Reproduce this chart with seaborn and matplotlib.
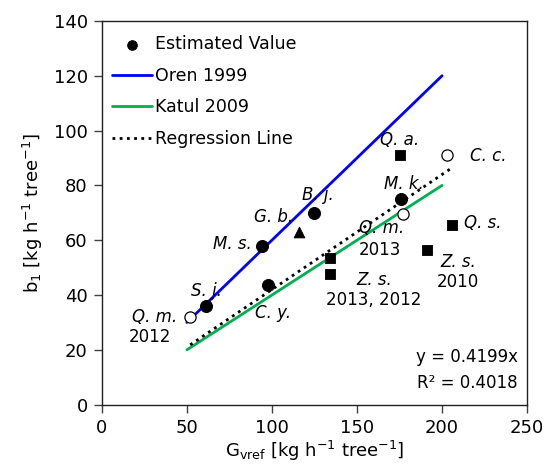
import matplotlib
matplotlib.use("Agg")
import matplotlib.pyplot as plt
import seaborn as sns
import numpy as np
import pandas as pd

# ---- data ----
filled_x = [61, 94, 125, 98, 176]
filled_y = [36, 58, 70, 43.5, 75]
tri_x = [116]
tri_y = [63]
square_x = [175, 134, 134, 191, 206]
square_y = [91, 53.5, 47.5, 56.5, 65.5]
open_x = [52, 203, 177]
open_y = [32, 91, 69.5]

oren_x = [50, 200]
oren_y = [30, 120]
katul_x = [50, 200]
katul_y = [20, 80]
reg_x = [52, 206]
reg_slope = 0.4199
reg_y = [reg_slope * v for v in reg_x]

labels = ["Q. a.", "C. c.", "M. k.", "Q. m.", "Q. s.", "Z. s.", "Z. s.",
          "B. j.", "G. b.", "M. s.", "S. j.", "C. y.", "Q. m."]
label_x = [175, 227, 177.5, 164.5, 224, 209.5, 160, 127, 101, 76.5, 61.3, 100.8, 31.3]
label_y = [96.6, 90.7, 80.5, 64.4, 66.2, 52.2, 45.5, 76.5, 68.6, 58.6, 41.6, 33.3, 31.9]
years = ["2013", "2010", "2013, 2012", "2012"]
year_x = [163.5, 209.5, 160, 28.4]
year_y = [56.4, 44.9, 38.2, 24.6]

sns.set_theme(style="white")
plt.rcParams['font.family'] = ['DejaVu Sans']
plt.rcParams['mathtext.default'] = 'regular'
for k in ['text.color', 'axes.labelcolor', 'xtick.color', 'ytick.color']:
    plt.rcParams[k] = 'black'

fig = plt.figure(figsize=(5.59, 4.75), dpi=100)
ax = fig.add_axes([0.182, 0.148, 0.761, 0.808])

sns.lineplot(x=oren_x, y=oren_y, color="#0000FF", lw=2.0, ax=ax, label="Oren 1999")
sns.lineplot(x=katul_x, y=katul_y, color="#00B050", lw=2.0, ax=ax, label="Katul 2009")
sns.lineplot(x=reg_x, y=reg_y, color="black", lw=2.0, ls=(0, (1, 1.6)), ax=ax,
             label="Regression Line")
sns.scatterplot(x=filled_x, y=filled_y, color="black", marker="o", s=75,
                edgecolor="black", ax=ax, label="Estimated Value", zorder=5)
sns.scatterplot(x=tri_x, y=tri_y, color="black", marker="^", s=60,
                edgecolor="black", ax=ax, zorder=5)
sns.scatterplot(x=square_x, y=square_y, color="black", marker="s", s=60,
                edgecolor="black", ax=ax, zorder=5)
sns.scatterplot(x=open_x, y=open_y, color="white", marker="o", s=65,
                edgecolor="black", linewidth=0.9, ax=ax, zorder=5)

for t, x, y in zip(labels, label_x, label_y):
    ax.text(x, y, t, style="italic", fontsize=12, ha="center", va="center")
for t, x, y in zip(years, year_x, year_y):
    ax.text(x, y, t, fontsize=12, ha="center", va="center")

ax.text(244.5, 17.4, "y = 0.4199x", fontsize=12, ha="right", va="center")
ax.text(244.5, 7.9, "R² = 0.4018", fontsize=12, ha="right", va="center")

ax.set_xlim(0, 250)
ax.set_ylim(0, 140)
ax.set_xticks(range(0, 251, 50))
ax.set_yticks(range(0, 141, 20))
ax.tick_params(axis="both", labelsize=13, direction="out", length=6, width=1,
               color="#404040", bottom=True, left=True, pad=4)
for s in ax.spines.values():
    s.set_color("#202020")
    s.set_linewidth(1.0)

ax.set_xlabel(r"G$_{vref}$ [kg h$^{-1}$ tree$^{-1}$]", fontsize=13, labelpad=2)
ax.set_ylabel(r"b$_1$ [kg h$^{-1}$ tree$^{-1}$]", fontsize=13, labelpad=6)

h, l = ax.get_legend_handles_labels()
order = [l.index(k) for k in ["Estimated Value", "Oren 1999", "Katul 2009", "Regression Line"]]
ax.legend([h[i] for i in order], [l[i] for i in order], loc="upper left",
          frameon=False, fontsize=12.5, handlelength=2.3, handletextpad=0.15,
          labelspacing=0.78, borderaxespad=0.2, markerscale=0.8,
          bbox_to_anchor=(0.0, 0.99))

fig.savefig("out.png", dpi=100)
